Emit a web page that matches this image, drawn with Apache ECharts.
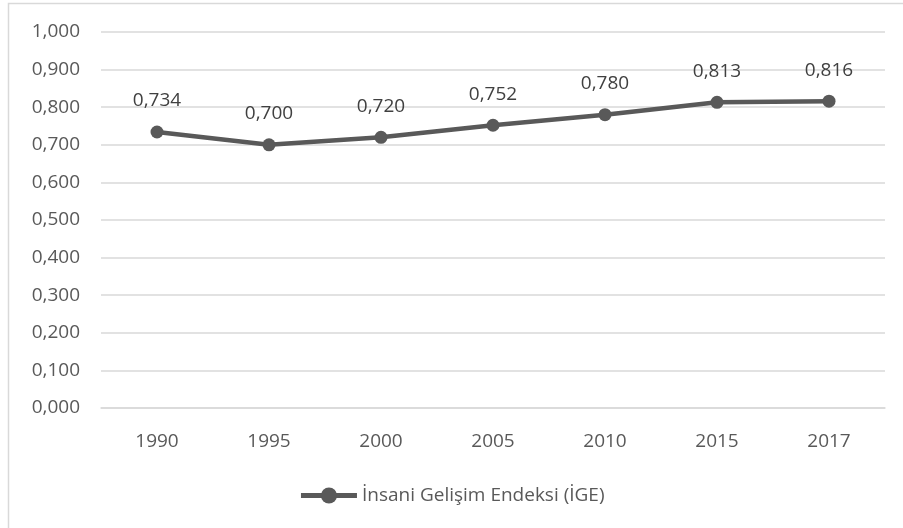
<!DOCTYPE html>
<html><head><meta charset="utf-8">
<script src="https://cdn.jsdelivr.net/npm/echarts@6/dist/echarts.min.js"></script>
<style>html,body{margin:0;padding:0;background:#fff}#c{width:903px;height:528px}</style>
</head><body><div id="c"></div>
<script>
const categories = ['1990','1995','2000','2005','2010','2015','2017'];
const values = [0.734, 0.700, 0.720, 0.752, 0.780, 0.813, 0.816];
const seriesName = 'İnsani Gelişim Endeksi (İGE)';
const fmt = v => v.toFixed(3).replace('.', ',');
const chart = echarts.init(document.getElementById('c'));
const font = '"Open Sans", "Noto Sans", sans-serif';
const fs = 19;
chart.setOption({
  animation: false,
  textStyle: {fontFamily: font},
  graphic: [{type:'rect', shape:{x:8.5,y:3.5,width:1000,height:1000}, style:{fill:'none', stroke:'#d9d9d9', lineWidth:1.5}}],
  grid: {left:101, right:18, top:32, bottom:120, containLabel:false},
  legend: {bottom:18, left:'center', itemWidth:56, itemHeight:20, itemGap:2,
    lineStyle:{width:5, color:'#595959'},
    itemStyle:{color:'#595959'},
    textStyle:{color:'#595959', fontSize:fs, fontFamily:font},
    data:[{name:seriesName}]},
  xAxis: {type:'category', data:categories, boundaryGap:true,
    axisLine:{show:true, lineStyle:{color:'#d9d9d9', width:1.5}}, axisTick:{show:false},
    axisLabel:{color:'#595959', fontSize:fs, margin:24, fontFamily:font}},
  yAxis: {type:'value', min:0, max:1, interval:0.1,
    axisLine:{show:false}, axisTick:{show:false},
    splitLine:{lineStyle:{color:'#d9d9d9', width:1.5}},
    axisLabel:{color:'#595959', fontSize:fs, margin:21, formatter:fmt, fontFamily:font}},
  series: [{name:seriesName, type:'line', data:values, symbol:'circle', symbolSize:13,
    lineStyle:{color:'#595959', width:4.5}, itemStyle:{color:'#595959'},
    label:{show:true, position:'top', distance:15, color:'#404040', fontSize:fs, fontFamily:font,
      formatter:p=>fmt(p.value)}}]
});
</script></body></html>
